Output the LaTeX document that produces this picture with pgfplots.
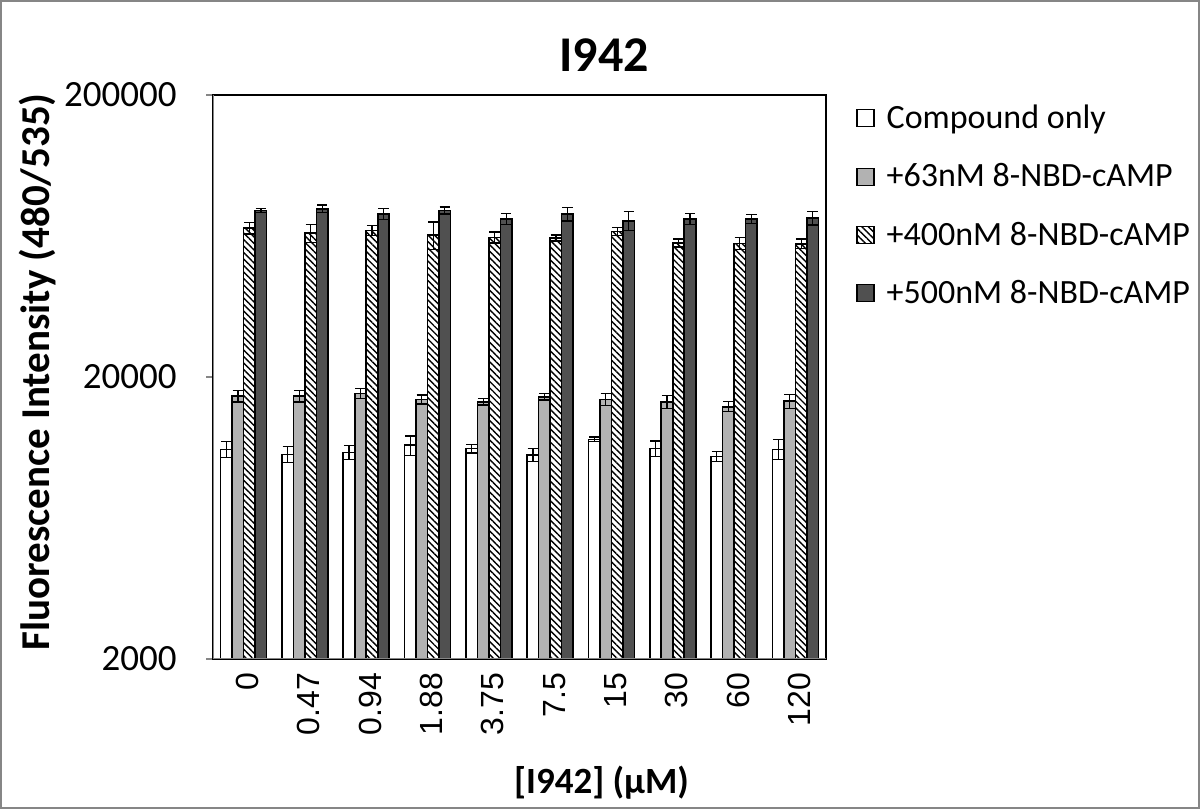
\documentclass[border=0pt]{standalone}
\usepackage{pgfplots}
\pgfplotsset{compat=1.18}
\usepackage{fontspec}
\setmainfont{Carlito}
\newfontfamily\carlitof{Carlito}
\newfontfamily\arialf{Liberation Sans}
\usetikzlibrary{patterns.meta}
\definecolor{gbar}{RGB}{178,178,178}
\definecolor{dbar}{RGB}{80,80,80}
\definecolor{axgray}{RGB}{134,134,134}
\pgfplotsset{ebar/.style={error bars/.cd, y dir=both, y explicit,
   error bar style={black, line width=0.6pt, solid},
   error mark options={rotate=90, mark size=2.6pt, black, line width=0.6pt}}}
\begin{document}
\begin{tikzpicture}
\useasboundingbox (0,0) rectangle (600pt,404.5pt);
\draw[axgray, line width=1pt] (0.5pt,0.5pt) rectangle (599.5pt,404pt);
\begin{axis}[
 at={(106.5pt,75pt)}, anchor=south west,
 scale only axis, width=306.5pt, height=282pt,
 ymode=log, log origin=infty, ymin=2000, ymax=200000,
 xmin=-0.5, xmax=9.5,
 ybar=0pt, bar width=5.75pt,
 axis line style={black, line width=0.6pt},
 xtick={0,...,9}, xticklabels={0,0.47,0.94,1.88,3.75,7.5,15,30,60,120},
 x tick label style={rotate=90, anchor=east, font=\arialf\fontsize{16}{16}\selectfont, yshift=-2pt},
 xtick style={draw=none},
 minor xtick={-0.5,0.5,...,9.5},
 minor tick length=3.5pt, major tick length=3.5pt,
 minor x tick style={axgray, line width=0.6pt},
 tick align=outside,
 ytick={2000,20000,200000}, yticklabels={},
 yminorticks=false,
 ytick style={axgray, line width=0.6pt},
 tick pos=left,
 legend style={at={(1.049,0.99)}, anchor=north west, draw=none, fill=none,
   font=\fontsize{17}{17}\selectfont, row sep=12pt, inner sep=0pt,
   /tikz/every odd column/.append style={column sep=4pt}},
 legend cell align=left,
 legend image code/.code={\draw[#1, line width=0.6pt] (0pt,-4.25pt) rectangle (8.5pt,4.25pt);},
]
\addplot[draw=black, line width=0.8pt, fill=white, ebar] coordinates {
 (0,11080)+-(0,720) (1,10630)+-(0,700) (2,10810)+-(0,600) (3,11450)+-(0,900) (4,11140)+-(0,390)
 (5,10570)+-(0,570) (6,12020)+-(0,230) (7,11140)+-(0,710) (8,10440)+-(0,430) (9,11080)+-(0,910)};
\addplot[draw=black, line width=0.8pt, fill=gbar, ebar] coordinates {
 (0,17100)+-(0,800) (1,17100)+-(0,800) (2,17480)+-(0,680) (3,16650)+-(0,600) (4,16340)+-(0,440)
 (5,17020)+-(0,460) (6,16650)+-(0,780) (7,16340)+-(0,860) (8,15690)+-(0,650) (9,16420)+-(0,920)};
\addplot[draw=black, line width=0.8pt, pattern={Lines[angle=-45,distance=2.3pt,line width=0.7pt]}, ebar] coordinates {
 (0,67480)+-(0,3170) (1,64790)+-(0,4900) (2,66170)+-(0,2560) (3,63740)+-(0,7100) (4,62510)+-(0,2800)
 (5,62200)+-(0,1530) (6,65630)+-(0,2150) (7,59720)+-(0,1950) (8,59530)+-(0,2970) (9,59370)+-(0,2300)};
\addplot[draw=black, line width=0.8pt, fill=dbar, ebar] coordinates {
 (0,77900)+-(0,1270) (1,79000)+-(0,2420) (2,75840)+-(0,3560) (3,77900)+-(0,2180) (4,72800)+-(0,3420)
 (5,75640)+-(0,4160) (6,71620)+-(0,5680) (7,72800)+-(0,3420) (8,72610)+-(0,2610) (9,73210)+-(0,4030)};
\legend{Compound only,+63nM 8-NBD-cAMP,+400nM 8-NBD-cAMP,+500nM 8-NBD-cAMP}
\draw[axgray, line width=0.8pt] (rel axis cs:0,0) -- (rel axis cs:0,1);
\draw[axgray, line width=0.8pt] (rel axis cs:0,0) -- (rel axis cs:1,0);
\coordinate (ya) at (axis cs:-0.5,200000);
\coordinate (yb) at (axis cs:-0.5,20000);
\coordinate (yc) at (axis cs:-0.5,2000);
\end{axis}
\begin{scope}[every node/.style={anchor=east, inner sep=0pt, font=\carlitof\fontsize{18.5}{18.5}\selectfont}]
\node at ([xshift=-18pt]ya) {200000};
\node at ([xshift=-18pt]yb) {20000};
\node at ([xshift=-18pt]yc) {2000};
\end{scope}
\node[font=\bfseries\fontsize{25}{25}\selectfont] at (302pt,377pt) {I942};
\node[rotate=90,font=\bfseries\fontsize{20.5}{20.5}\selectfont] at (19pt,218.5pt) {Fluorescence Intensity (480/535)};
\node[font=\bfseries\fontsize{18.5}{18.5}\selectfont] at (300.75pt,13pt) {[I942] (µM)};
\end{tikzpicture}
\end{document}
